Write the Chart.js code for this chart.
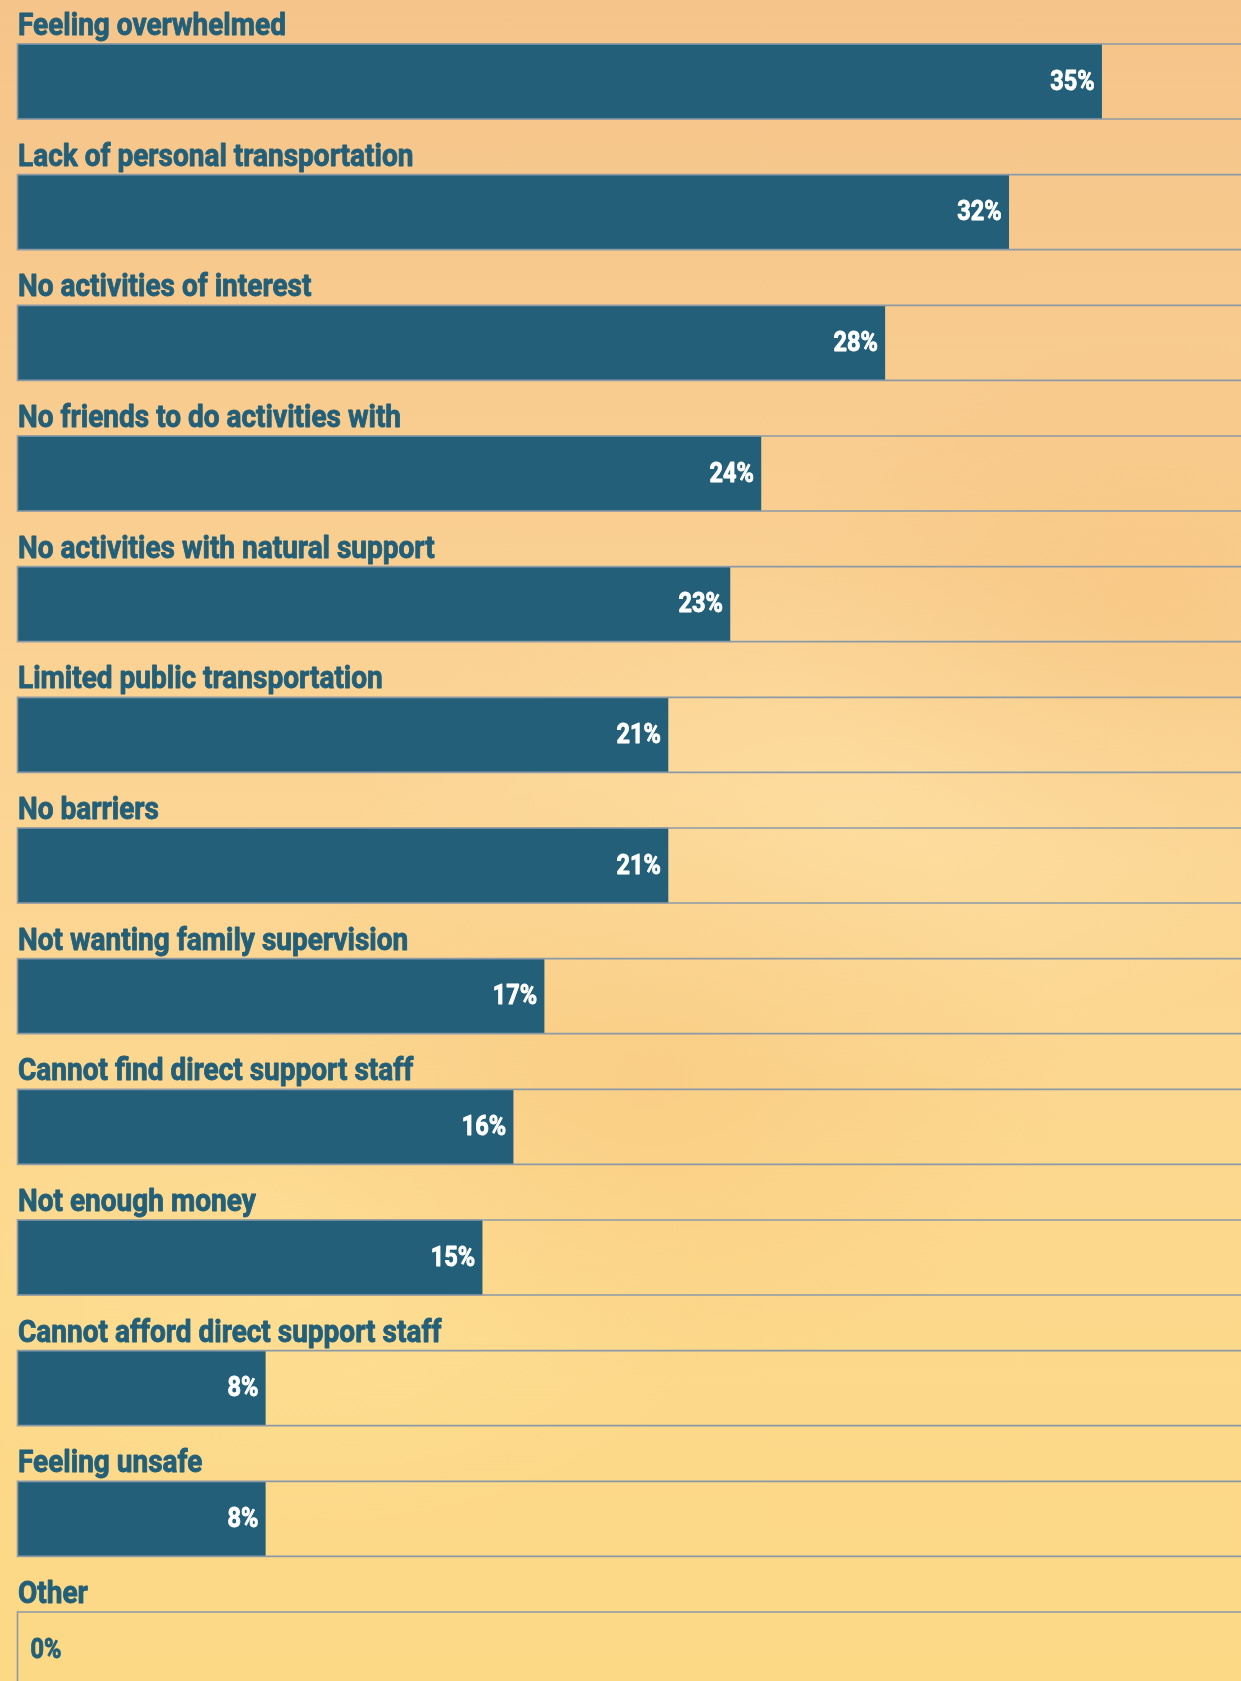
<!DOCTYPE html>
<html>
<head>
<meta charset="utf-8">
<script src="https://cdn.jsdelivr.net/npm/chart.js@4.4.0/dist/chart.umd.min.js"></script>
<style>
  html, body {
    margin: 0;
    padding: 0;
  }
  body {
    width: 1241px;
    height: 1681px;
    overflow: hidden;
    background:
      radial-gradient(ellipse 420px 300px at 650px 1080px, rgba(244, 184, 110, 0.3), rgba(244, 184, 110, 0) 100%),
      radial-gradient(ellipse 380px 260px at 1150px 600px, rgba(244, 184, 110, 0.3), rgba(244, 184, 110, 0) 100%),
      radial-gradient(ellipse 500px 260px at 850px 820px, rgba(255, 236, 180, 0.35), rgba(255, 236, 180, 0) 100%),
      radial-gradient(ellipse 420px 240px at 300px 1300px, rgba(255, 232, 160, 0.35), rgba(255, 232, 160, 0) 100%),
      linear-gradient(180deg, #f5c48a 0%, #f8cb8e 22%, #fbd494 45%, #fcd88e 70%, #fcd985 100%);
  }
  #caixa {
    position: relative;
    width: 1241px;
    height: 1681px;
  }
</style>
</head>
<body>
<div id="caixa"><canvas id="grafico"></canvas></div>
<script>
// Barriers reported, in percent
var categorias = [
  "Feeling overwhelmed",
  "Lack of personal transportation",
  "No activities of interest",
  "No friends to do activities with",
  "No activities with natural support",
  "Limited public transportation",
  "No barriers",
  "Not wanting family supervision",
  "Cannot find direct support staff",
  "Not enough money",
  "Cannot afford direct support staff",
  "Feeling unsafe",
  "Other"
];
var valores = [35, 32, 28, 24, 23, 21, 21, 17, 16, 15, 8, 8, 0];
var rotulosValor = ["35%", "32%", "28%", "24%", "23%", "21%", "21%", "17%", "16%", "15%", "8%", "8%", "0%"];

var azul = "#235f78";
var cinza = "#8c9aa8";

document.addEventListener("DOMContentLoaded", function() {
  var contexto = document.getElementById("grafico").getContext("2d");

  // squeezed, slightly heavier Roboto text
  function textoCondensado(ctx, texto, x, y, escala, cor) {
    ctx.save();
    ctx.translate(x, y);
    ctx.scale(escala, 1);
    ctx.fillStyle = cor;
    ctx.strokeStyle = cor;
    ctx.lineWidth = 0.9;
    ctx.lineJoin = "round";
    ctx.fillText(texto, 0, 0);
    ctx.strokeText(texto, 0, 0);
    ctx.restore();
  }

  // gray outline around each bar row, open to the right edge
  var trilhos = {
    id: "trilhos",
    afterDatasetsDraw: function(chart) {
      var ctx = chart.ctx;
      var meta = chart.getDatasetMeta(0);
      ctx.save();
      ctx.strokeStyle = cinza;
      ctx.lineWidth = 1.6;
      meta.data.forEach(function(barra) {
        var topo = barra.y - barra.height / 2;
        var base = barra.y + barra.height / 2;
        var esq = barra.base;
        ctx.beginPath();
        ctx.moveTo(chart.width + 5, topo);
        ctx.lineTo(esq, topo);
        ctx.lineTo(esq, base);
        ctx.lineTo(chart.width + 5, base);
        ctx.stroke();
      });
      ctx.restore();
    }
  };

  // category names above the bars and value labels inside them
  var rotulos = {
    id: "rotulos",
    afterDraw: function(chart) {
      var ctx = chart.ctx;
      var meta = chart.getDatasetMeta(0);
      ctx.save();
      meta.data.forEach(function(barra, i) {
        var topo = barra.y - barra.height / 2;

        ctx.font = "bold 32px Roboto";
        ctx.textAlign = "left";
        ctx.textBaseline = "alphabetic";
        textoCondensado(ctx, categorias[i], barra.base + 0.5, topo - 9, 0.875, azul);

        ctx.font = "bold 28px Roboto";
        ctx.textBaseline = "middle";
        if (valores[i] > 0) {
          ctx.textAlign = "right";
          textoCondensado(ctx, rotulosValor[i], barra.x - 7, barra.y + 1, 0.84, "#ffffff");
        } else {
          ctx.textAlign = "left";
          textoCondensado(ctx, rotulosValor[i], barra.base + 13, barra.y + 1, 0.84, azul);
        }
      });
      ctx.restore();
    }
  };

  var grafico = new Chart(contexto, {
    type: "bar",
    data: {
      labels: categorias,
      datasets: [{
        data: valores,
        backgroundColor: azul,
        borderWidth: 0,
        barThickness: 75,
        clip: false
      }]
    },
    options: {
      indexAxis: "y",
      responsive: true,
      maintainAspectRatio: false,
      animation: false,
      layout: {
        padding: { top: 81.5, bottom: 31.5, left: 17.5, right: 0 }
      },
      scales: {
        x: {
          display: false,
          min: 0,
          max: 39.5
        },
        y: {
          display: false,
          offset: false
        }
      },
      plugins: {
        legend: { display: false },
        tooltip: { enabled: false }
      }
    },
    plugins: [trilhos, rotulos]
  });
});
</script>
</body>
</html>
